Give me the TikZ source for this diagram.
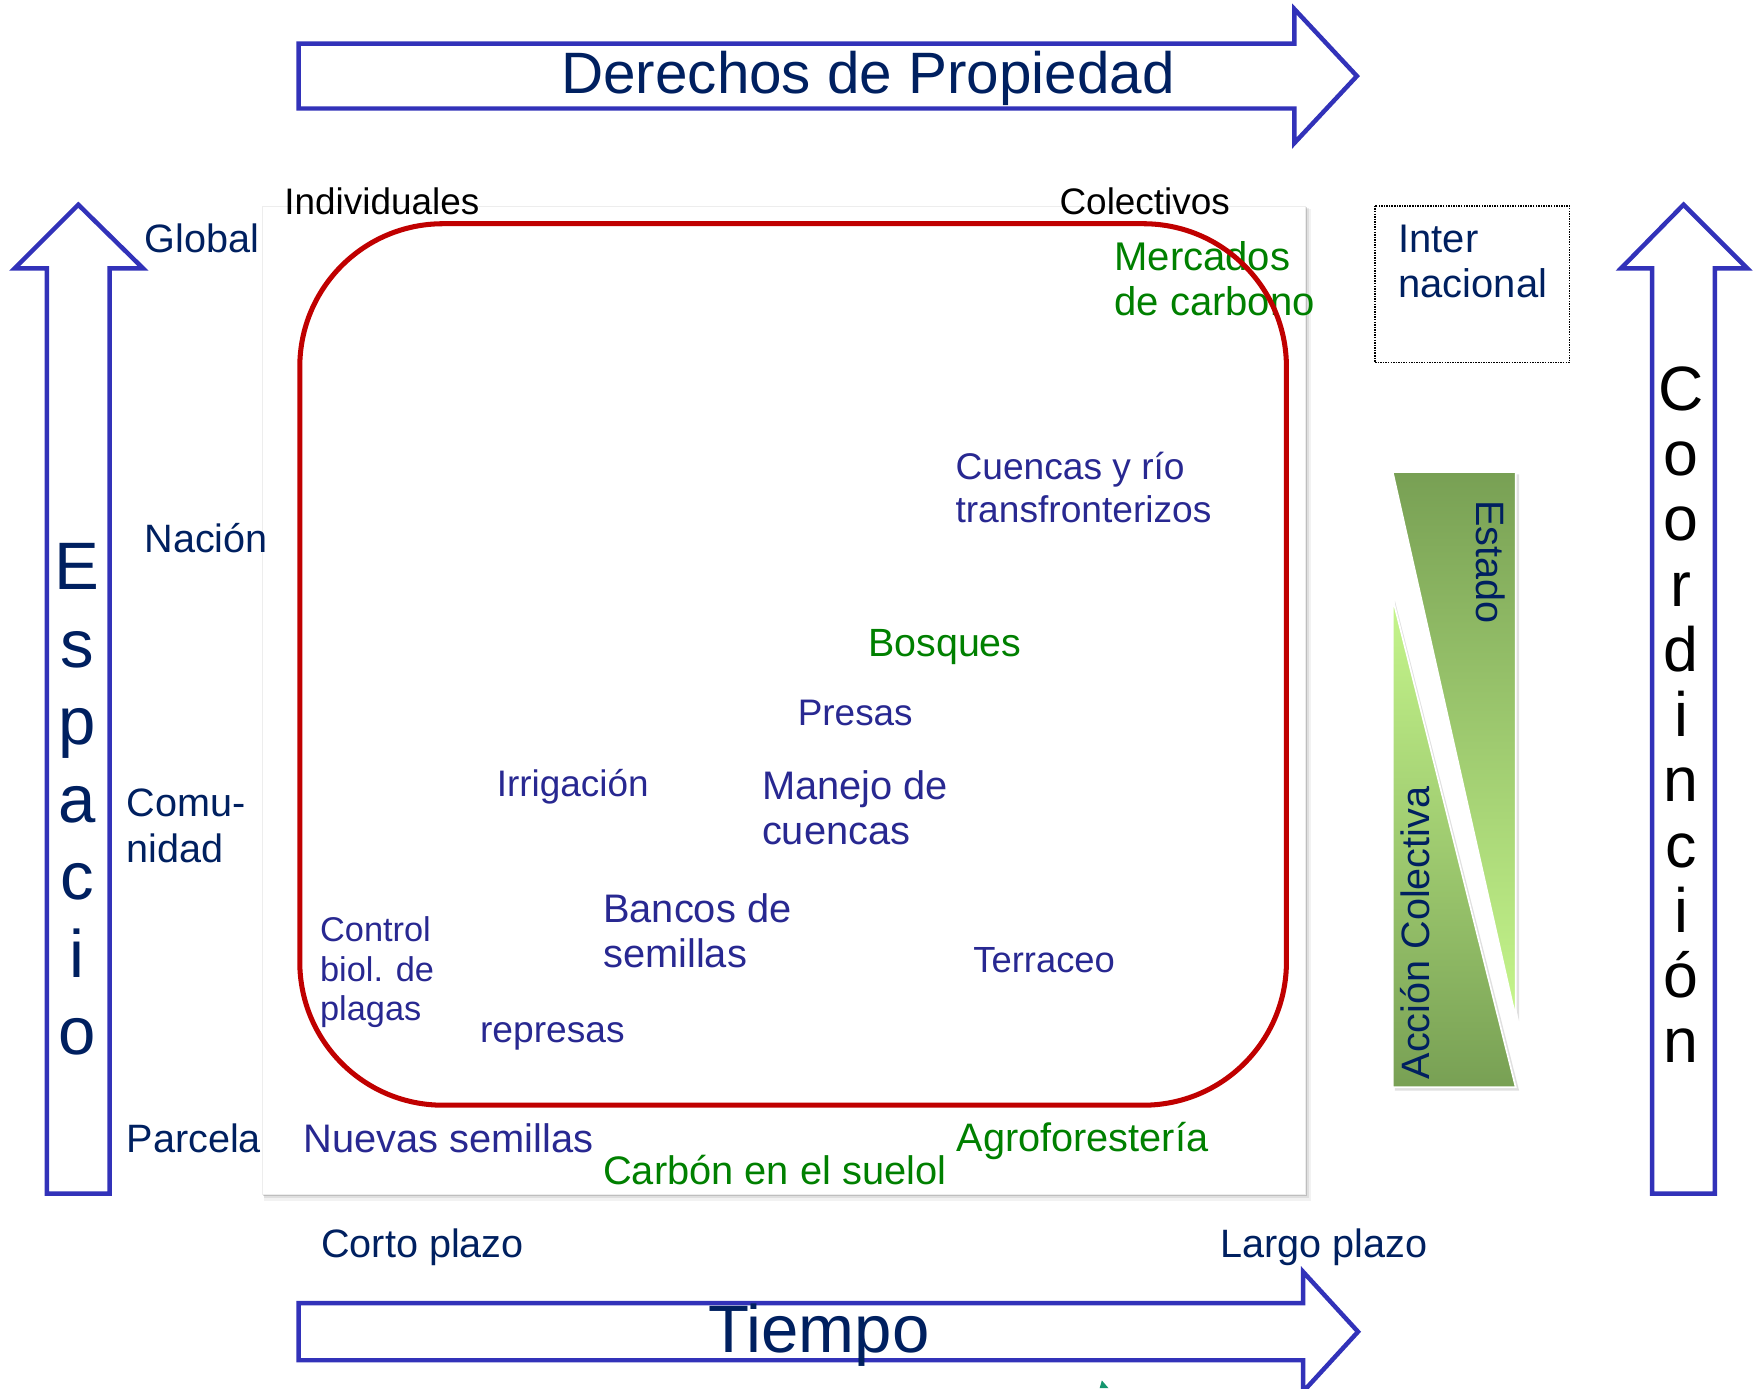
\documentclass[tikz,border=0pt]{standalone}
\usepackage{fontspec}
\setmainfont{Liberation Sans}
\definecolor{arrowblue}{RGB}{50,50,185}
\definecolor{navy}{RGB}{0,32,96}
\definecolor{itemblue}{RGB}{40,40,145}
\definecolor{itemgreen}{RGB}{0,128,0}
\definecolor{ovalred}{RGB}{192,0,0}
\definecolor{gdark}{RGB}{120,160,84}
\definecolor{glight}{RGB}{198,246,140}
\definecolor{markgreen}{RGB}{20,150,110}
\newcommand\fsz[2]{\fontsize{#1pt}{#2pt}\selectfont}
\begin{document}
\begin{tikzpicture}[x=1pt,y=-1pt,
  bigarrow/.style={draw=arrowblue, line width=4pt, fill=white, line join=miter},
  lbl/.style={inner sep=0pt, anchor=base west},
  axislbl/.style={lbl, text=navy, font=\fsz{35.4}{41}},
  headlbl/.style={lbl, text=black, font=\fsz{33}{38}},
  bitem/.style={lbl, text=itemblue},
  gitem/.style={lbl, text=itemgreen},
  bandtext/.style={inner sep=0pt, anchor=base west, text=navy, font=\fsz{35.4}{40}},
  stackletter/.style={inner sep=0pt, anchor=base}
]
\useasboundingbox (0,0) rectangle (1568,1241);

% panel with soft shadow
\fill[black, opacity=0.05] (236,187) rectangle (1172,1074);
\fill[black, opacity=0.08] (236,186) rectangle (1170,1071);
\fill[black, opacity=0.15] (235,185) rectangle (1168,1069);
\fill[white] (235,185) rectangle (1167,1068);
\draw[black!7, line width=0.8pt] (235,185) rectangle (1167,1068);

% top arrow: Derechos de Propiedad
\draw[bigarrow] (267,39) -- (1157,39) -- (1157,8) -- (1213,68) -- (1157,128) -- (1157,97) -- (267,97) -- cycle;
\node[inner sep=0pt, anchor=base, text=navy, font=\fsz{52.2}{60}] (derechos) at (776,84) {Derechos de Propiedad};

% bottom arrow: Tiempo
\draw[bigarrow] (267,1165) -- (1165,1165) -- (1165,1137) -- (1214,1190.5) -- (1165,1244) -- (1165,1216) -- (267,1216) -- cycle;
\node[inner sep=0pt, anchor=base, text=navy, font=\fsz{60}{66}] (tiempo) at (732,1209) {Tiempo};

% left arrow: Espacio
\draw[bigarrow] (42,1067) -- (42,240) -- (13,240) -- (70,183) -- (128,240) -- (98,240) -- (98,1067) -- cycle;
\foreach \ch [count=\i] in {E,s,p,a,c,i,o}
  \node[stackletter, text=navy, font=\fsz{60}{60}] (esp\i) at (69,{527+69.3*(\i-1)}) {\ch};

% right arrow: Coordinación
\draw[bigarrow] (1477,1067) -- (1477,240) -- (1449,240) -- (1505,183) -- (1562,240) -- (1533,240) -- (1533,1067) -- cycle;
\foreach \ch [count=\i] in {C,o,o,r,d,i,n,c,i,ó,n}
  \node[stackletter, text=black, font=\fsz{56}{56}] (coord\i) at (1503,{367+58.3*(\i-1)}) {\ch};

% dotted box
\draw[densely dotted, line width=1.3pt] (1229,184) rectangle (1403,324);
\node[bandtext, font=\fsz{35.7}{40}] (inter) at (1250,226) {\vtop{\hbox{Inter}\hbox{nacional}}};

% green wedges
\fill[black, opacity=0.12] (1247,424) -- (1358,424) -- (1358,913) -- cycle;
\fill[black, opacity=0.12] (1247,537) -- (1358,975) -- (1247,975) -- cycle;
\path[draw=white, line width=1.5pt, top color=gdark, bottom color=glight] (1245,422) -- (1355,422) -- (1355,910) -- cycle;
\path[draw=white, line width=1.5pt, top color=glight, bottom color=gdark] (1245,535) -- (1355,972) -- (1245,972) -- cycle;
\node[bandtext, rotate=-90] (estado) at (1320,447) {Estado};
\node[bandtext, rotate=90] (accion) at (1278,965) {Acción Colectiva};

% column headers
\node[headlbl] (indiv) at (254,192) {Individuales};
\node[headlbl] (colec) at (947,192) {Colectivos};

% row labels
\node[axislbl] (global) at (129,226) {Global};
\node[axislbl] (nacion) at (129,494) {Nación};
\node[axislbl] (comunidad) at (113,730) {\vtop{\hbox{Comu-}\hbox{nidad}}};
\node[axislbl] (parcela) at (113,1030) {Parcela};
\node[axislbl] (corto) at (287,1124) {Corto plazo};
\node[axislbl] (largo) at (1091,1124) {Largo plazo};

% items
\node[gitem, font=\fsz{35.8}{40}] (mercados) at (996,242) {\vtop{\hbox{Mercados}\hbox{de carbono}}};
\node[bitem, font=\fsz{33.2}{38}] (cuencas) at (854,429) {\vtop{\hbox{Cuencas y río}\hbox{transfronterizos}}};
\node[gitem, font=\fsz{35.2}{40}] (bosques) at (776,587) {Bosques};
\node[bitem, font=\fsz{33}{38}] (presas) at (713,649) {Presas};
\node[bitem, font=\fsz{33}{38}] (irrig) at (444,712) {Irrigación};
\node[bitem, font=\fsz{35.6}{40}] (manejo) at (681,715) {\vtop{\hbox{Manejo de}\hbox{cuencas}}};
\node[bitem, font=\fsz{35.6}{40}] (bancos) at (539,825) {\vtop{\hbox{Bancos de}\hbox{semillas}}};
\node[bitem, font=\fsz{30.7}{35}] (control) at (286,842) {\vtop{\hbox{Control}\hbox{biol. de}\hbox{plagas}}};
\node[bitem, font=\fsz{33.2}{38}] (represas) at (429,932) {represas};
\node[bitem, font=\fsz{32.5}{38}] (terraceo) at (870,869) {Terraceo};
\node[bitem, font=\fsz{35.6}{40}] (nuevas) at (271,1030) {Nuevas semillas};
\node[gitem, font=\fsz{35.5}{40}] (agrofor) at (855,1029) {Agroforestería};
\node[gitem, font=\fsz{35.6}{40}] (carbon) at (539,1059) {Carbón en el suelol};

% red rounded outline
\draw[ovalred, line width=4.5pt, rounded corners=128pt] (268,200) rectangle (1150,988);

% small green mark at bottom edge
\fill[markgreen] (983,1241) -- (985,1234) -- (991,1241) -- cycle;
\end{tikzpicture}
\end{document}
